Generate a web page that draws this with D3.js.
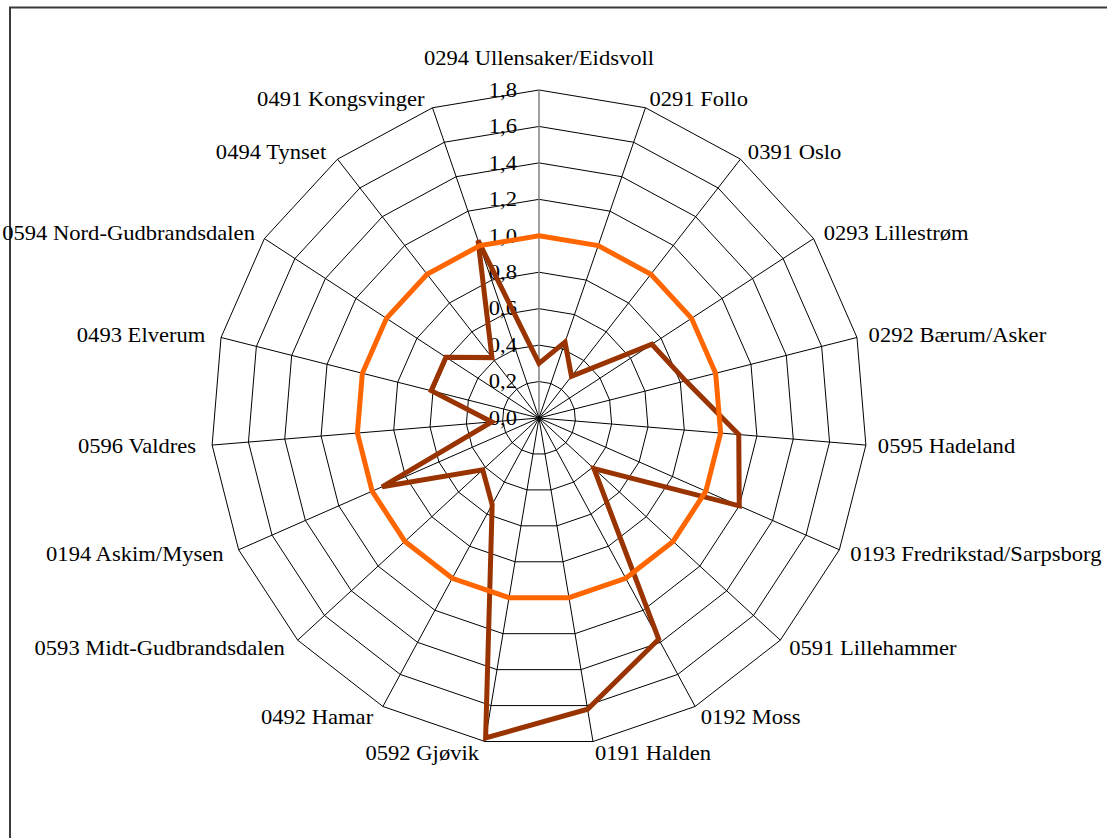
<!DOCTYPE html>
<html>
<head>
<meta charset="utf-8">
<script src="https://cdn.jsdelivr.net/npm/d3@7"></script>
<style>
  html, body { margin: 0; padding: 0; background: #fff; }
  svg { display: block; }
  text { font-family: "Liberation Serif", "Times New Roman", serif; fill: #000; }
</style>
</head>
<body>
<svg id="chart" width="1107" height="838"></svg>
<script>
// Regions, clockwise from the top
const regions = [
  "0294 Ullensaker/Eidsvoll", "0291 Follo", "0391 Oslo", "0293 Lillestrøm",
  "0292 Bærum/Asker", "0595 Hadeland", "0193 Fredrikstad/Sarpsborg",
  "0591 Lillehammer", "0192 Moss", "0191 Halden", "0592 Gjøvik", "0492 Hamar",
  "0593 Midt-Gudbrandsdalen", "0194 Askim/Mysen", "0596 Valdres",
  "0493 Elverum", "0594 Nord-Gudbrandsdalen", "0494 Tynset", "0491 Kongsvinger"
];
// Index per region
const indexValues = [
  0.30, 0.44, 0.29, 0.74, 0.83, 1.10, 1.20, 0.41, 1.38, 1.62,
  1.78, 0.54, 0.42, 0.94, 0.26, 0.61, 0.61, 0.42, 1.03
];
// Reference level (national average = 1,0)
const referenceValues = [
  1.0, 1.0, 1.0, 1.0, 1.0, 1.0, 1.0, 1.0, 1.0, 1.0,
  1.0, 1.0, 1.0, 1.0, 1.0, 1.0, 1.0, 1.0, 1.0
];
const tickValues = [0, 0.2, 0.4, 0.6, 0.8, 1.0, 1.2, 1.4, 1.6, 1.8];
const tickLabels = ["0,0", "0,2", "0,4", "0,6", "0,8", "1,0", "1,2", "1,4", "1,6", "1,8"];

const svg = d3.select("#chart");
const W = 1107;
const cx = 539, cy = 418, outerR = 328;
const FONT = 20, STRETCH = 1.13;

// Chart frame
svg.append("rect")
  .attr("x", 10).attr("y", 7.5)
  .attr("width", 1200).attr("height", 1000)
  .attr("fill", "none").attr("stroke", "#3a3a3a").attr("stroke-width", 2);

const r = d3.scaleLinear().domain([0, 1.8]).range([0, outerR]);
const angle = d3.scaleLinear().domain([0, regions.length]).range([0, 2 * Math.PI]);

const g = svg.append("g").attr("transform", `translate(${cx},${cy})`);
const pt = (i, v) => [Math.sin(angle(i)) * r(v), -Math.cos(angle(i)) * r(v)];

// Polygon rings
const ringLine = d3.line().curve(d3.curveLinearClosed);
g.selectAll("path.ring")
  .data(tickValues.filter(t => t > 0))
  .join("path")
  .attr("class", "ring")
  .attr("d", t => ringLine(regions.map((_, i) => pt(i, t))))
  .attr("fill", "none").attr("stroke", "#000").attr("stroke-width", 1);

// Spokes
g.selectAll("line.spoke")
  .data(regions)
  .join("line")
  .attr("class", "spoke")
  .attr("x1", 0).attr("y1", 0)
  .attr("x2", (_, i) => pt(i, 1.8)[0])
  .attr("y2", (_, i) => pt(i, 1.8)[1])
  .attr("stroke", (_, i) => i === 0 ? "#808080" : "#000")
  .attr("stroke-width", (_, i) => i === 0 ? 1.5 : 1);

// Value axis labels
g.selectAll("g.tick")
  .data(tickValues)
  .join("g")
  .attr("class", "tick")
  .attr("transform", t => `translate(-22,${-r(t)}) scale(${STRETCH},1)`)
  .append("text")
  .attr("text-anchor", "end")
  .attr("dy", "0.34em")
  .attr("font-size", FONT)
  .text((_, i) => tickLabels[i]);

// Series
const seriesLine = d3.line().curve(d3.curveLinearClosed);
g.append("path")
  .attr("d", seriesLine(indexValues.map((v, i) => pt(i, v))))
  .attr("fill", "none").attr("stroke", "#993300")
  .attr("stroke-width", 5).attr("stroke-linejoin", "miter");
g.append("path")
  .attr("d", seriesLine(referenceValues.map((v, i) => pt(i, v))))
  .attr("fill", "none").attr("stroke", "#FF6600")
  .attr("stroke-width", 5).attr("stroke-linejoin", "miter");

// Category labels around the outside
const labelR = outerR + 12;
const cats = g.selectAll("g.cat")
  .data(regions)
  .join("g")
  .attr("class", "cat");

cats.append("text")
  .attr("text-anchor", (_, i) => {
    const s = Math.sin(angle(i));
    return Math.abs(s) < 0.05 ? "middle" : (s > 0 ? "start" : "end");
  })
  .attr("dy", "0.34em")
  .attr("font-size", FONT)
  .text(d => d);

cats.attr("transform", function (_, i) {
  const a = angle(i), s = Math.sin(a), c = Math.cos(a);
  const w = this.querySelector("text").getComputedTextLength() * STRETCH;
  let x = s * labelR, y = -c * labelR;
  if (Math.abs(s) < 0.05) y -= 20 * Math.sign(c);
  else {
    if (s < 0) x -= 4;
    if (c > 0) y += 3 * c;
  }
  // keep every label inside the drawing area
  if (s < -0.05 && cx + x - w < 2) x = 2 + w - cx;
  if (s > 0.05 && cx + x + w > W - 2) x = W - 2 - w - cx;
  return `translate(${x},${y}) scale(${STRETCH},1)`;
});
</script>
</body>
</html>
